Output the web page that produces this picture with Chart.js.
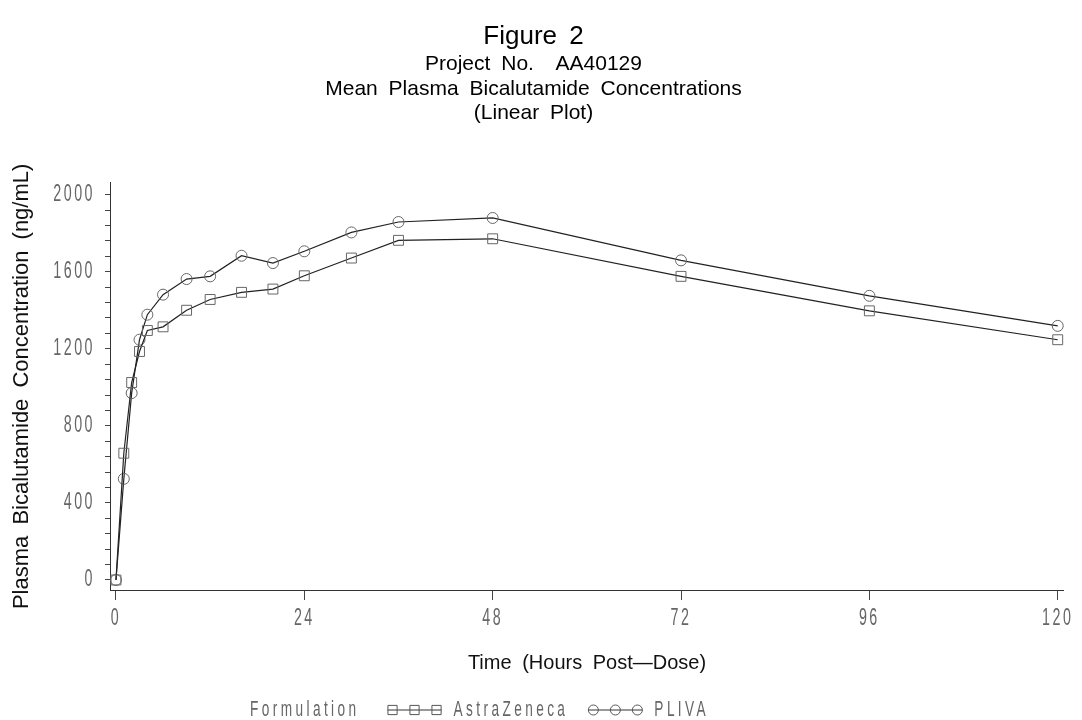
<!DOCTYPE html>
<html>
<head>
<meta charset="utf-8">
<script src="https://cdn.jsdelivr.net/npm/chart.js@4.4.1/dist/chart.umd.min.js"></script>
<style>
  html, body { margin: 0; padding: 0; background: #fff; }
</style>
</head>
<body>
<canvas id="myChart" width="1082" height="720"></canvas>
<script>
"use strict";

// data
const hours = [0, 1, 2, 3, 4, 6, 9, 12, 16, 20, 24, 30, 36, 48, 72, 96, 120];
const astraZeneca = [0, 658, 1025, 1186, 1295, 1314, 1400, 1456, 1493, 1510, 1579, 1671, 1763, 1771, 1576, 1397, 1247];
const pliva = [0, 525, 970, 1247, 1377, 1481, 1562, 1576, 1683, 1645, 1706, 1804, 1858, 1879, 1659, 1475, 1319];

// tick labels
const xTicks = [0, 24, 48, 72, 96, 120];
const yTicks = [0, 400, 800, 1200, 1600, 2000];
const yMinorStep = 80;

const titleText = 'Figure 2';
const subtitleLines = ['Project No.  AA40129', 'Mean Plasma Bicalutamide Concentrations', '(Linear Plot)'];
const legendTitle = 'Formulation';

const toPoints = (ys) => hours.map((h, i) => ({ x: h, y: ys[i] }));

const textFont = '"Liberation Sans", Arial, sans-serif';
const labelFont = { family: textFont, size: 23 };
const squeeze = 0.62;   //horizontal squeeze for the thin SAS style labels

//draws text squeezed around its anchor point
function squeezedFill(ctx, fill) {
    return function (text, x, y) {
        this.save();
        this.translate(x, y);
        this.scale(squeeze, 1);
        fill.call(this, text, 0, 0);
        this.restore();
    };
}

//letter spaced tick labels + wide word spacing on titles
const spacingPlugin = {
    id: 'spacing',
    beforeDraw(chart) {
        chart.ctx.wordSpacing = '5px';
        Object.values(chart.scales).forEach(scale => {
            if (scale._spaced) return;
            const drawLabels = scale.drawLabels;
            scale.drawLabels = function (area) {
                const ctx = this.ctx;
                ctx.save();
                ctx.letterSpacing = '4px';
                ctx.wordSpacing = '0px';
                ctx.fillText = squeezedFill(ctx, CanvasRenderingContext2D.prototype.fillText);
                drawLabels.call(this, area);
                delete ctx.fillText;
                ctx.restore();
            };
            scale._spaced = true;
        });
    }
};

//legend row under the x axis title: "Formulation  -□-□-□ AstraZeneca  -○-○-○ PLIVA"
const legendRow = {
    id: 'legendRow',
    afterDraw(chart) {
        const ctx = chart.ctx;
        const fill = squeezedFill(ctx, CanvasRenderingContext2D.prototype.fillText);
        const y = 710;
        let x = 250;
        ctx.save();
        ctx.font = '22px ' + textFont;
        ctx.letterSpacing = '5.5px';
        ctx.wordSpacing = '0px';
        ctx.textBaseline = 'middle';
        ctx.textAlign = 'left';
        const width = (t) => ctx.measureText(t).width * squeeze;
        ctx.fillStyle = '#666';
        fill.call(ctx, legendTitle, x, y);
        x += width(legendTitle) + 28;
        chart.data.datasets.forEach(ds => {
            const len = 54;
            ctx.strokeStyle = '#333';
            ctx.lineWidth = 1;
            ctx.beginPath();
            ctx.moveTo(x, y);
            ctx.lineTo(x + len, y);
            ctx.stroke();
            ctx.fillStyle = 'rgba(0,0,0,0)';
            ctx.strokeStyle = '#555';
            [x + 5, x + len / 2, x + len - 5].forEach(px => {
                Chart.helpers.drawPoint(ctx, {
                    pointStyle: ds.pointStyle,
                    radius: ds.pointStyle === 'rect' ? 6.5 : 5,
                    borderWidth: 1.2
                }, px, y);
            });
            x += len + 12;
            ctx.fillStyle = '#666';
            fill.call(ctx, ds.label, x, y);
            x += width(ds.label) + 20;
        });
        ctx.restore();
    }
};

const data = {
    datasets: [{
        label: 'AstraZeneca',
        data: toPoints(astraZeneca),
        pointStyle: 'rect',
        pointRadius: 7,
        borderColor: '#222',
        borderWidth: 1.2,
        pointBorderColor: '#666',
        pointBackgroundColor: 'rgba(0,0,0,0)',
        pointBorderWidth: 1,
        tension: 0
    }, {
        label: 'PLIVA',
        data: toPoints(pliva),
        pointStyle: 'circle',
        pointRadius: 5.5,
        borderColor: '#222',
        borderWidth: 1.2,
        pointBorderColor: '#666',
        pointBackgroundColor: 'rgba(0,0,0,0)',
        pointBorderWidth: 1,
        tension: 0
    }]
};

const config = {
    type: 'line',
    data,
    plugins: [spacingPlugin, legendRow],
    options: {
        responsive: false,
        animation: false,
        devicePixelRatio: 1,
        layout: {
            padding: { top: 0, right: 15, bottom: 40, left: 0 }
        },
        scales: {
            x: {
                type: 'linear',
                min: -0.76,
                max: 120.8,
                afterBuildTicks: scale => { scale.ticks = xTicks.map(v => ({ value: v })); },
                afterFit: scale => { scale.height = 90; },
                grid: { drawOnChartArea: false, drawTicks: true, tickLength: 10, color: '#444' },
                border: { display: true, color: '#333', width: 1 },
                ticks: { font: labelFont, color: '#666', padding: 5, maxRotation: 0, autoSkip: false },
                title: {
                    display: true,
                    text: 'Time (Hours Post\u2014Dose)',
                    font: { family: textFont, size: 20 },
                    color: '#111',
                    padding: { top: 4, bottom: 5 }
                }
            },
            y: {
                type: 'linear',
                min: -52,
                max: 2062,
                afterBuildTicks: scale => {
                    const t = [];
                    for (let v = yTicks[0]; v <= yTicks[yTicks.length - 1]; v += yMinorStep) t.push({ value: v });
                    scale.ticks = t;
                },
                afterFit: scale => { scale.width = 110; },
                grid: { drawOnChartArea: false, drawTicks: true, tickLength: 5, color: '#444' },
                border: { display: true, color: '#333', width: 1 },
                ticks: {
                    font: labelFont,
                    color: '#666',
                    padding: 10,
                    autoSkip: false,
                    callback: value => yTicks.includes(value) ? String(value) : ''
                },
                title: {
                    display: true,
                    text: 'Plasma Bicalutamide Concentration (ng/mL)',
                    font: { family: textFont, size: 22 },
                    color: '#111',
                    padding: { top: 9, bottom: 0 }
                }
            }
        },
        plugins: {
            legend: { display: false },
            tooltip: { enabled: false },
            title: {
                display: true,
                text: titleText,
                font: { family: textFont, size: 26, weight: 'normal', lineHeight: 1.2 },
                color: '#000',
                padding: { top: 21, bottom: 0 }
            },
            subtitle: {
                display: true,
                text: subtitleLines,
                font: { family: textFont, size: 21, lineHeight: 1.167 },
                color: '#000',
                padding: { top: 0, bottom: 57 }
            }
        }
    }
};

const myChart = new Chart(document.getElementById('myChart'), config);
</script>
</body>
</html>
